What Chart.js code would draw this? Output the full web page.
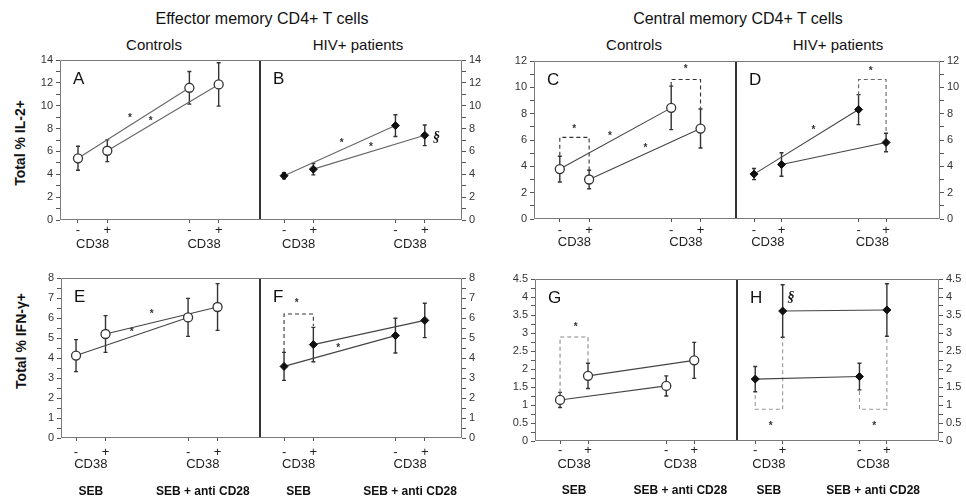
<!DOCTYPE html>
<html><head><meta charset="utf-8">
<script src="https://cdn.jsdelivr.net/npm/chart.js@4/dist/chart.umd.min.js"></script>
<style>
html,body{margin:0;padding:0;background:#fff;width:966px;height:502px;overflow:hidden;position:relative;font-family:"Liberation Sans",Arial,sans-serif;}
.c{position:absolute;}
.t{position:absolute;white-space:nowrap;transform:translate(-50%,-50%);color:#111;line-height:1;}
.yt{position:absolute;white-space:nowrap;transform:translate(-50%,-50%) rotate(-90deg);font-weight:bold;font-size:14px;color:#111;line-height:1;}
</style></head><body>
<div class="t" style="left:262px;top:19px;font-size:16px;">Effector memory CD4+ T cells</div>
<div class="t" style="left:738px;top:19px;font-size:16px;">Central memory CD4+ T cells</div>
<div class="t" style="left:154px;top:44px;font-size:15px;">Controls</div>
<div class="t" style="left:358px;top:44px;font-size:15px;">HIV+ patients</div>
<div class="t" style="left:634px;top:44px;font-size:15px;">Controls</div>
<div class="t" style="left:838px;top:44px;font-size:15px;">HIV+ patients</div>
<div class="yt" style="left:20px;top:143px;">Total % IL-2+</div>
<div class="yt" style="left:21px;top:341px;">Total % IFN-γ+</div>
<script>
// ---------- categories / tick labels ----------
const xPos = [1, 2, 4.8, 5.8];            // CD38-, CD38+ (SEB) | CD38-, CD38+ (SEB + anti CD28)
const signLabels = ['-', '+', '-', '+'];
const groupPos = [1.5, 5.3];
const cd38Labels = ['CD38', 'CD38'];
const stimLabels = ['SEB', 'SEB + anti CD28'];

// ---------- values: [SEB, SEB + anti CD28] per CD38 subset, with error bars ----------
const A_neg = [5.4, 11.57], A_negErr = [1.05, 1.43], A_pos = [6.06, 11.86], A_posErr = [0.95, 1.9];
const B_neg = [3.87, 8.26], B_negErr = [0.27, 0.95], B_pos = [4.45, 7.41], B_posErr = [0.5, 0.9];
const C_neg = [3.79, 8.44], C_negErr = [0.98, 1.65], C_pos = [3.0, 6.87], C_posErr = [0.7, 1.48];
const D_neg = [3.41, 8.31], D_negErr = [0.42, 1.14], D_pos = [4.14, 5.81], D_posErr = [0.89, 0.7];
const E_neg = [4.12, 6.03], E_negErr = [0.8, 0.95], E_pos = [5.2, 6.55], E_posErr = [0.92, 1.17];
const F_neg = [3.58, 5.12], F_negErr = [0.7, 0.87], F_pos = [4.67, 5.88], F_posErr = [0.86, 0.86];
const G_neg = [1.14, 1.53], G_negErr = [0.21, 0.28], G_pos = [1.81, 2.24], G_posErr = [0.35, 0.5];
const H_neg = [1.72, 1.79], H_negErr = [0.35, 0.37], H_pos = [3.61, 3.64], H_posErr = [0.73, 0.73];

// ---------- significance brackets (x index from/to, y values of the 4 corners) ----------
const C_brackets = [{from:0, to:1, y:[4.8, 6.2, 6.2, 3.7]}, {from:2, to:3, y:[10.1, 10.6, 10.6, 8.4]}];
const D_brackets = [{from:2, to:3, y:[9.4, 10.6, 10.6, 6.4]}];
const F_brackets = [{from:0, to:1, y:[4.3, 6.2, 6.2, 5.6]}];
const G_brackets = [{from:0, to:1, y:[1.34, 2.89, 2.89, 2.17]}];
const H_brackets = [{from:0, to:1, y:[1.28, 0.88, 0.88, 2.87]}, {from:2, to:3, y:[1.39, 0.88, 0.88, 2.89]}];

// ---------- annotation marks [x, y, text] ----------
const A_notes = [[2.77, 9.1, '*'], [3.48, 8.85, '*']];
const B_notes = [[2.97, 6.88, '*'], [3.96, 6.5, '*'], [6.2, 7.2, '§']];
const C_notes = [[1.49, 6.95, '*'], [5.29, 11.55, '*'], [2.71, 6.4, '*'], [3.92, 5.53, '*']];
const D_notes = [[5.24, 11.4, '*'], [3.16, 6.87, '*']];
const E_notes = [[3.57, 6.28, '*'], [2.89, 5.37, '*']];
const F_notes = [[1.43, 6.85, '*'], [2.85, 4.6, '*']];
const G_notes = [[1.56, 3.21, '*']];
const H_notes = [[1.56, 0.47, '*'], [5.34, 0.47, '*'], [2.3, 4.0, '§']];

Chart.defaults.font.family = '"Liberation Sans", Arial, sans-serif';

function pts(xs, ys) { return xs.map((x, i) => ({x: x, y: ys[i]})); }

function makePanel(c) {
  const YW = 40, PAD = 8, PADT = 12, PADB = 6;
  const xh = c.xh;
  const sumXH = xh.reduce((a, b) => a + b, 0);
  const W = (c.r - c.l) + YW + PAD;
  const H = (c.b - c.t) + PADT + sumXH + PADB;
  const div = document.createElement('div');
  div.className = 'c';
  div.style.left = (c.l - (c.side === 'left' ? YW : PAD)) + 'px';
  div.style.top = (c.t - PADT) + 'px';
  div.style.width = W + 'px';
  div.style.height = H + 'px';
  const cv = document.createElement('canvas');
  cv.width = W; cv.height = H;
  cv.style.width = W + 'px'; cv.style.height = H + 'px';
  div.appendChild(cv);
  document.body.appendChild(div);

  const marker = c.hiv
    ? {pointStyle: 'rectRot', pointRadius: 4, pointBackgroundColor: '#111', pointBorderColor: '#111', pointBorderWidth: 1}
    : {pointStyle: 'circle', pointRadius: 4.5, pointBackgroundColor: '#fff', pointBorderColor: '#333', pointBorderWidth: 1.3};
  const lineStyle = {showLine: true, borderColor: c.lineColor || '#444', borderWidth: 1.1};

  const datasets = [
    Object.assign({label: 'CD38-', data: pts([xPos[0], xPos[2]], c.neg), errors: c.negErr}, lineStyle, marker),
    Object.assign({label: 'CD38+', data: pts([xPos[1], xPos[3]], c.pos), errors: c.posErr}, lineStyle, marker)
  ];
  (c.brackets || []).forEach(b => {
    datasets.push({
      label: 'bracket',
      data: pts([xPos[b.from], xPos[b.from], xPos[b.to], xPos[b.to]], b.y),
      showLine: true, borderDash: [4, 3], borderColor: c.bracketColor || '#444', borderWidth: 1.1,
      pointRadius: 0, fill: false
    });
  });

  const isMajor = v => Math.abs(v / c.major - Math.round(v / c.major)) < 1e-6;

  const scales = {
    y: {
      type: 'linear', position: c.side, min: 0, max: c.ymax,
      afterFit: s => { s.width = YW; },
      ticks: {
        stepSize: c.minor, autoSkip: false, padding: 3, color: '#333', font: {size: 11},
        callback: v => isMajor(v) ? String(+(+v).toFixed(2)) : ''
      },
      grid: {drawOnChartArea: false, drawTicks: true, tickLength: 4, color: '#555'},
      border: {display: false}
    },
    x: {
      type: 'linear', position: 'bottom', min: c.xmin, max: c.xmax, weight: 0,
      afterBuildTicks: s => { s.ticks = xPos.map(v => ({value: v})); },
      afterFit: s => { s.height = xh[0]; },
      ticks: {autoSkip: false, maxRotation: 0, padding: c.signPad, color: '#222', font: {size: 13},
        callback: (v, i) => signLabels[i]},
      grid: {drawOnChartArea: false, drawTicks: true, tickLength: 3, color: '#555'},
      border: {display: false}
    },
    x2: {
      type: 'linear', position: 'bottom', min: c.xmin, max: c.xmax, weight: 1,
      afterBuildTicks: s => { s.ticks = groupPos.map(v => ({value: v})); },
      afterFit: s => { s.height = xh[1]; },
      ticks: {autoSkip: false, maxRotation: 0, padding: 0, color: '#222', font: {size: 13},
        callback: (v, i) => cd38Labels[i]},
      grid: {display: false, drawTicks: false},
      border: {display: false}
    }
  };
  if (xh.length > 2) {
    scales.x3 = {
      type: 'linear', position: 'bottom', min: c.xmin, max: c.xmax, weight: 2,
      afterBuildTicks: s => { s.ticks = groupPos.map(v => ({value: v})); },
      afterFit: s => { s.height = xh[2]; },
      ticks: {autoSkip: false, maxRotation: 0, padding: 0, color: '#111', font: {size: 12, weight: 'bold'},
        callback: (v, i) => stimLabels[i]},
      grid: {display: false, drawTicks: false},
      border: {display: false}
    };
  }

  const deco = {
    id: 'deco' + c.id,
    beforeDatasetsDraw(chart) {
      const ctx = chart.ctx, a = chart.chartArea, ys = chart.scales.y;
      ctx.save();
      const L = Math.round(a.left) + 0.5, R = Math.round(a.right) - 0.5;
      const T = Math.round(a.top) + 0.5, B = Math.round(a.bottom) - 0.5;
      ctx.lineWidth = 1;
      ctx.strokeStyle = '#7a7a7a';
      ctx.beginPath();
      ctx.moveTo(L, T); ctx.lineTo(R, T);
      ctx.moveTo(L, B); ctx.lineTo(R, B);
      if (c.side === 'left') { ctx.moveTo(L, T); ctx.lineTo(L, B); }
      else { ctx.moveTo(R, T); ctx.lineTo(R, B); }
      ctx.stroke();
      ctx.strokeStyle = '#333';
      ctx.beginPath();
      if (c.side === 'left') { ctx.moveTo(R, T); ctx.lineTo(R, B); }
      else { ctx.moveTo(L, T); ctx.lineTo(L, B); }
      ctx.stroke();
      // error bars
      ctx.strokeStyle = '#333';
      ctx.lineWidth = 1.4;
      chart.data.datasets.forEach((ds, i) => {
        if (!ds.errors) return;
        const meta = chart.getDatasetMeta(i);
        meta.data.forEach((el, j) => {
          const v = ds.data[j].y, e = ds.errors[j];
          const y1 = ys.getPixelForValue(v + e), y2 = ys.getPixelForValue(v - e);
          ctx.beginPath();
          ctx.moveTo(el.x, y1); ctx.lineTo(el.x, y2);
          ctx.moveTo(el.x - 2, y1); ctx.lineTo(el.x + 2, y1);
          ctx.moveTo(el.x - 2, y2); ctx.lineTo(el.x + 2, y2);
          ctx.stroke();
        });
      });
      ctx.restore();
    },
    afterDatasetsDraw(chart) {
      const ctx = chart.ctx, a = chart.chartArea, xs = chart.scales.x, ys = chart.scales.y;
      ctx.save();
      ctx.fillStyle = '#111';
      ctx.font = '17px "Liberation Sans", Arial, sans-serif';
      ctx.textAlign = 'left';
      ctx.textBaseline = 'alphabetic';
      ctx.fillText(c.id, a.left + 13, a.top + 24);
      ctx.textAlign = 'center';
      ctx.textBaseline = 'middle';
      (c.notes || []).forEach(n => {
        let dy = 0;
        if (n[2] === '§') {
          ctx.font = 'italic bold 14px "Liberation Serif", serif';
          ctx.fillStyle = '#111';
        } else {
          ctx.font = 'bold 10px "Liberation Sans", Arial, sans-serif';
          ctx.fillStyle = '#333';
          dy = 2;
        }
        ctx.fillText(n[2], xs.getPixelForValue(n[0]), ys.getPixelForValue(n[1]) + dy);
      });
      ctx.restore();
    }
  };

  return new Chart(cv, {
    type: 'scatter',
    data: {datasets: datasets},
    options: {
      responsive: false, animation: false, events: [],
      layout: {padding: {left: c.side === 'left' ? 0 : PAD, right: c.side === 'right' ? 0 : PAD, top: PADT, bottom: PADB}},
      plugins: {legend: {display: false}, tooltip: {enabled: false}},
      scales: scales
    },
    plugins: [deco]
  });
}

const topA = {xh: [17, 20], signPad: 0};
const topC = {xh: [16, 20], signPad: 1};
const botE = {xh: [19, 27, 22], signPad: 4};
const botG = {xh: [16, 26, 22], signPad: -1};

makePanel(Object.assign({id: 'A', l: 60, r: 260, t: 60, b: 220, side: 'left', ymax: 14, minor: 1, major: 2,
  xmin: 0.386, xmax: 7.21, hiv: false, neg: A_neg, negErr: A_negErr, pos: A_pos, posErr: A_posErr,
  brackets: [], notes: A_notes, lineColor: '#666'}, topA));
makePanel(Object.assign({id: 'B', l: 260, r: 462, t: 60, b: 220, side: 'right', ymax: 14, minor: 1, major: 2,
  xmin: 0.18, xmax: 7.07, hiv: true, neg: B_neg, negErr: B_negErr, pos: B_pos, posErr: B_posErr,
  brackets: [], notes: B_notes, lineColor: '#666'}, topA));
makePanel(Object.assign({id: 'C', l: 534, r: 736, t: 61, b: 219, side: 'left', ymax: 12, minor: 1, major: 2,
  xmin: 0.12, xmax: 7.01, hiv: false, neg: C_neg, negErr: C_negErr, pos: C_pos, posErr: C_posErr,
  brackets: C_brackets, notes: C_notes, bracketColor: '#333'}, topC));
makePanel(Object.assign({id: 'D', l: 736, r: 940, t: 61, b: 219, side: 'right', ymax: 12, minor: 1, major: 2,
  xmin: 0.345, xmax: 7.76, hiv: true, neg: D_neg, negErr: D_negErr, pos: D_pos, posErr: D_posErr,
  brackets: D_brackets, notes: D_notes, bracketColor: '#666'}, topC));
makePanel(Object.assign({id: 'E', l: 61, r: 260, t: 278, b: 438, side: 'left', ymax: 8, minor: 0.5, major: 1,
  xmin: 0.49, xmax: 7.24, hiv: false, neg: E_neg, negErr: E_negErr, pos: E_pos, posErr: E_posErr,
  brackets: [], notes: E_notes}, botE));
makePanel(Object.assign({id: 'F', l: 260, r: 462, t: 278, b: 438, side: 'right', ymax: 8, minor: 0.5, major: 1,
  xmin: 0.18, xmax: 7.07, hiv: true, neg: F_neg, negErr: F_negErr, pos: F_pos, posErr: F_posErr,
  brackets: F_brackets, notes: F_notes, bracketColor: '#333'}, botE));
makePanel(Object.assign({id: 'G', l: 535, r: 737, t: 279, b: 441, side: 'left', ymax: 4.5, minor: 0.25, major: 0.5,
  xmin: 0.104, xmax: 7.33, hiv: false, neg: G_neg, negErr: G_negErr, pos: G_pos, posErr: G_posErr,
  brackets: G_brackets, notes: G_notes, bracketColor: '#888'}, botG));
makePanel(Object.assign({id: 'H', l: 737, r: 939, t: 279, b: 441, side: 'right', ymax: 4.5, minor: 0.25, major: 0.5,
  xmin: 0.335, xmax: 7.70, hiv: true, neg: H_neg, negErr: H_negErr, pos: H_pos, posErr: H_posErr,
  brackets: H_brackets, notes: H_notes, bracketColor: '#999'}, botG));
</script>
</body></html>
